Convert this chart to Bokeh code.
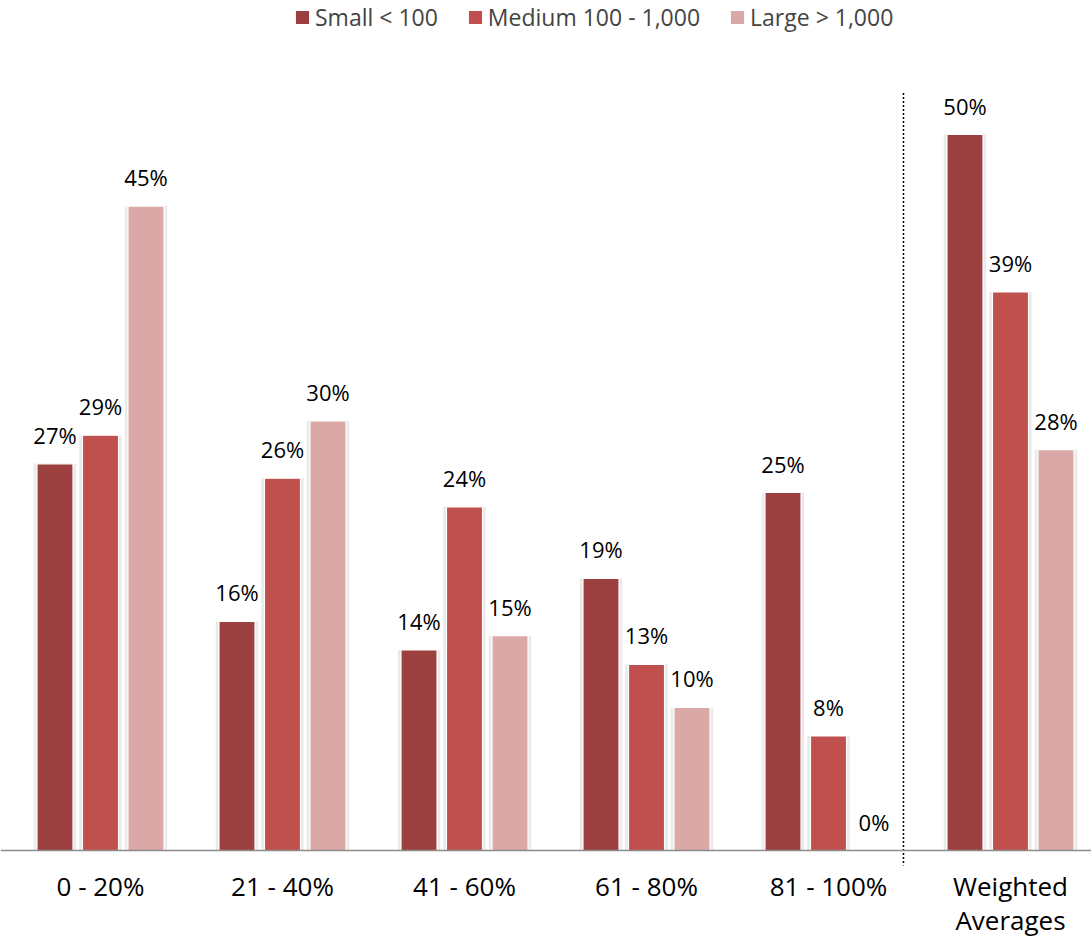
import numpy as np
from bokeh.plotting import figure
from bokeh.models import (ColumnDataSource, Range1d, Span, Legend, LegendItem)
from bokeh.core.properties import value
from bokeh.embed import file_html
from bokeh.resources import INLINE

# ---- data ----
categories = ["0 - 20%", "21 - 40%", "41 - 60%", "61 - 80%", "81 - 100%", "Weighted\nAverages"]
series_names = ["Small < 100", "Medium 100 - 1,000", "Large > 1,000"]
small = [27, 16, 14, 19, 25, 50]
medium = [29, 26, 24, 13, 8, 39]
large = [45, 30, 15, 10, 0, 28]

colors = ["#9B3F3F", "#C0504D", "#DAA8A7"]
FONT = "Open Sans"

W, H = 1091, 938
px_per_unit = 14.32
base_px = 850
y_end = base_px / px_per_unit
y_start = (base_px - H) / px_per_unit

p = figure(width=W, height=H, output_backend="svg", toolbar_location=None,
           x_range=Range1d(-100 / 182, (W - 100) / 182),
           y_range=Range1d(y_start, y_end),
           min_border_left=0, min_border_right=0, min_border_top=0,
           min_border_bottom=0)
p.outline_line_color = None
p.xgrid.visible = False
p.ygrid.visible = False
p.xaxis.visible = False
p.yaxis.visible = False
p.background_fill_color = "white"
p.border_fill_color = "white"

x = np.arange(len(categories))
offsets = [-0.25, 0.0, 0.25]
bw = 0.198
renderers = []
for vals, off, col in zip([small, medium, large], offsets, colors):
    src = ColumnDataSource(dict(x=x + off, top=vals,
                                lab=[f"{v}%" for v in vals]))
    # soft shadow
    p.vbar(x="x", top="top", bottom=0, width=bw + 0.035, source=src,
           fill_color="#d8d8d8", fill_alpha=0.55, line_color=None)
    r = p.vbar(x="x", top="top", bottom=0, width=bw, source=src,
               fill_color=col, line_color="white", line_width=1.2)
    renderers.append(r)
    p.text(x="x", y="top", text="lab", source=src, text_align="center",
           text_baseline="alphabetic", y_offset=-29,
           text_font=value(FONT), text_font_size="22px", text_color="#000000")

# baseline axis line
p.add_layout(Span(location=0, dimension="width", line_color="#8c8c8c", line_width=1.5))
# dotted separator
p.segment(x0=[4.412], y0=[52.9], x1=[4.412], y1=[-1.05],
          line_color="#000000", line_width=1.5, line_dash="2 2")

# category labels under the baseline (line by line)
lines = [c.split("\n") for c in categories]
first = [l[0] for l in lines]
second = [l[1] if len(l) > 1 else "" for l in lines]
cat_src = ColumnDataSource(dict(x=x, y=[0] * len(categories), t1=first, t2=second))
for col_name, off in (("t1", 35), ("t2", 69)):
    p.text(x="x", y="y", text=col_name, source=cat_src, text_align="center",
           text_baseline="alphabetic", y_offset=off,
           text_font=value(FONT), text_font_size="26px", text_color="#000000")

legend = Legend(items=[LegendItem(label=n, renderers=[r]) for n, r in zip(series_names, renderers)],
                orientation="horizontal", location=(293, H - 33),
                glyph_width=18, glyph_height=18, label_standoff=4, spacing=28,
                label_text_font=FONT, label_text_font_size="23px",
                border_line_color=None, background_fill_alpha=0,
                padding=0, margin=0)
p.add_layout(legend, "center")

open("out.html", "w").write(file_html(p, INLINE))
